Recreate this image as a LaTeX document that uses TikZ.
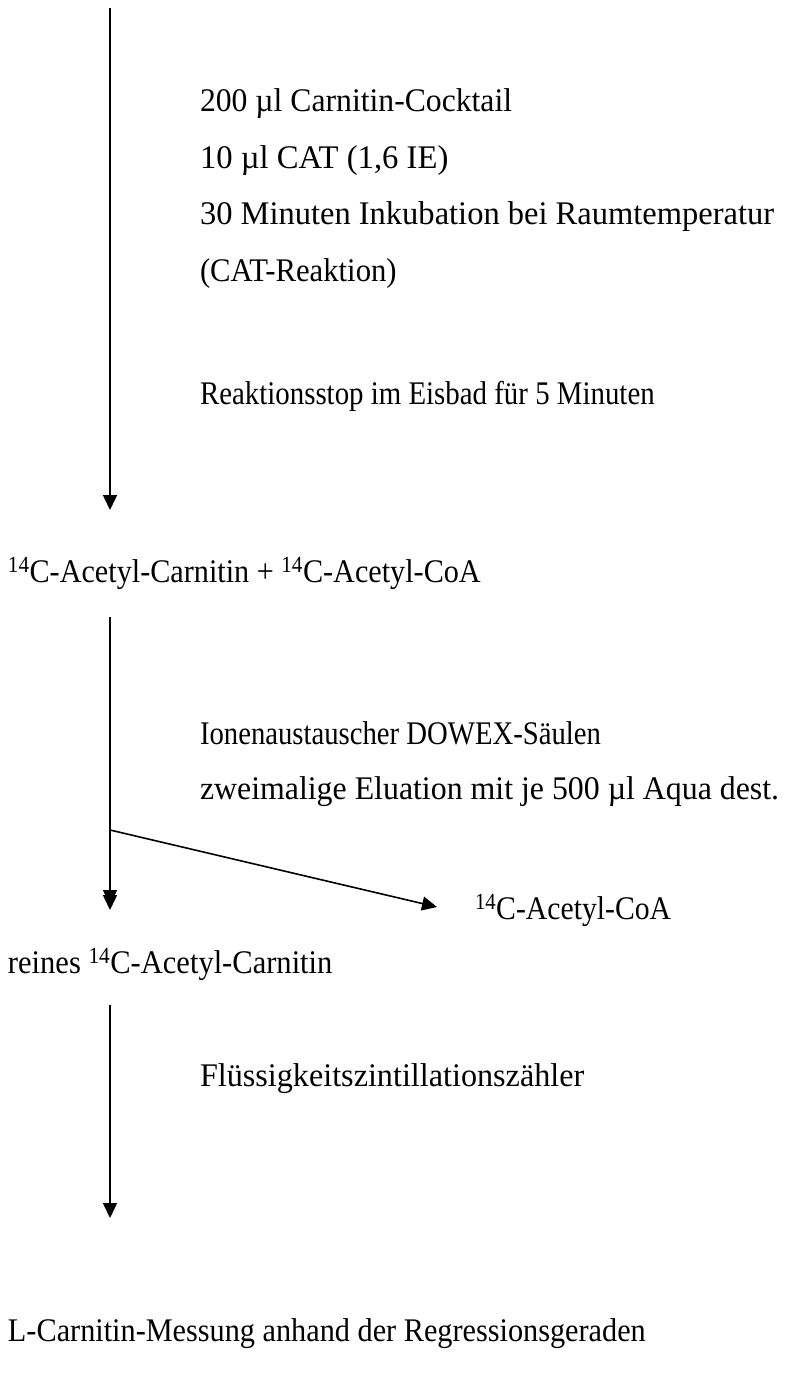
\documentclass[tikz,border=0pt]{standalone}
\usepackage{fontspec}
\usepackage{graphicx}
\setmainfont{Liberation Serif}
\usetikzlibrary{arrows.meta}
% horizontally condensed text line
\newcommand{\sqz}[2]{\scalebox{#1}[1]{#2}}
\begin{document}
\begin{tikzpicture}[x=1pt,y=-1pt,
  txt/.style={anchor=base west,inner sep=0pt,outer sep=0pt,
    font=\fontsize{33}{40}\selectfont},
  flow/.style={line width=1.6pt,-{Triangle[width=14pt,length=15pt]}},
  flowdbl/.style={line width=1.6pt,
    -{Triangle[width=14pt,length=15pt,sep=-10pt]Triangle[width=14pt,length=15pt]}}]
\useasboundingbox (0,0) rectangle (786,1377);

% step 1: CAT reaction
\coordinate (s1top) at (110,8);
\coordinate (s1end) at (110,510);
\node[txt] (c1) at (200,111) {\sqz{0.96}{200 µl Carnitin-Cocktail}};
\node[txt] (c2) at (200,168) {\sqz{0.99}{10 µl CAT (1,6 IE)}};
\node[txt] (c3) at (200,224) {\sqz{0.985}{30 Minuten Inkubation bei Raumtemperatur}};
\node[txt] (c4) at (200,281) {\sqz{0.93}{(CAT-Reaktion)}};
\node[txt] (c5) at (200,404) {\sqz{0.875}{Reaktionsstop im Eisbad für 5 Minuten}};
\draw[flow] (s1top) -- (s1end);

\node[txt] (mix) at (8,582) {\sqz{0.915}{\textsuperscript{14}C-Acetyl-Carnitin + \textsuperscript{14}C-Acetyl-CoA}};

% step 2: ion exchange
\coordinate (s2top) at (110,617);
\coordinate (split) at (110,830);
\coordinate (s2end) at (110,910);
\node[txt] (d1) at (200,744) {\sqz{0.87}{Ionenaustauscher DOWEX-Säulen}};
\node[txt] (d2) at (200,799) {\sqz{0.965}{zweimalige Eluation mit je 500 µl Aqua dest.}};
\node[txt] (coa) at (475,919) {\sqz{0.9}{\textsuperscript{14}C-Acetyl-CoA}};
\coordinate (coaend) at (437,907);
\draw[flowdbl] (s2top) -- (s2end);
\draw[flow] (split) -- (coaend);

\node[txt] (pure) at (8,973) {\sqz{0.925}{reines \textsuperscript{14}C-Acetyl-Carnitin}};

% step 3: counting
\coordinate (s3top) at (110,1005);
\coordinate (s3end) at (110,1218);
\node[txt] (e1) at (200,1086) {\sqz{0.975}{Flüssigkeitszintillationszähler}};
\draw[flow] (s3top) -- (s3end);

\node[txt] (res) at (8,1341) {\sqz{0.917}{L-Carnitin-Messung anhand der Regressionsgeraden}};
\end{tikzpicture}
\end{document}
